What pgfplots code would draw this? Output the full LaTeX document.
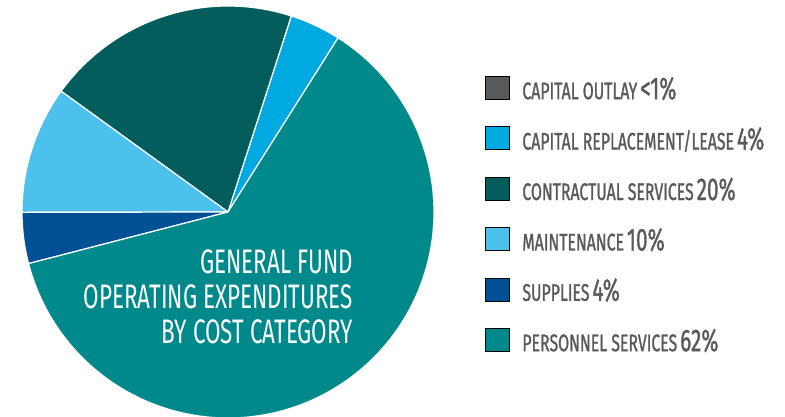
\documentclass[border=0pt]{standalone}
\usepackage{fontspec}
\setmainfont{Fira Sans}[FakeStretch=0.66, FakeBold=1]
\newfontfamily\centerfont{Fira Sans}[FakeStretch=0.66]
\usepackage{pgfplots}
\pgfplotsset{compat=1.18}
\definecolor{outlay}{HTML}{58595B}
\definecolor{caprep}{HTML}{00A9E0}
\definecolor{contract}{HTML}{025D5C}
\definecolor{maint}{HTML}{4BC1EC}
\definecolor{supplies}{HTML}{005096}
\definecolor{personnel}{HTML}{00898A}
\definecolor{textgray}{HTML}{58595B}
\newcommand{\lab}[2]{{\fontsize{24pt}{24pt}\selectfont #1}\hspace{3pt}{\fontsize{31.5pt}{31.5pt}\selectfont #2}}
% slice shares (percent), counter-clockwise from 57.7 degrees
\pgfmathsetmacro\sA{57.7}
\pgfmathsetmacro\sB{\sA+3.6*4}   % capital replacement/lease 4
\pgfmathsetmacro\sC{\sB+3.6*20}  % contractual services 20
\pgfmathsetmacro\sD{\sC+3.6*10}  % maintenance 10
\pgfmathsetmacro\sE{\sD+3.6*4}   % supplies 4
\pgfmathsetmacro\sF{\sE+3.6*62}  % personnel services 62
\begin{document}
\begin{tikzpicture}
\begin{axis}[
  width=785pt, height=416pt, scale only axis,
  xmin=-228, xmax=557, ymin=-204, ymax=212,
  axis lines=box, axis line style={draw=none}, ticks=none,
  legend cell align=left,
  legend image code/.code={\fill[#1] (0pt,-11.5pt) rectangle (24pt,11.5pt);},
  legend style={at={(axis cs:257,136)}, anchor=north west, draw=none, fill=none,
    inner sep=0pt, outer sep=0pt, row sep=27pt,
    nodes={inner sep=0pt, text height=23pt, text depth=0pt, text=textgray},
    /tikz/every odd column/.append style={column sep=13pt}},
]
\addlegendimage{fill=outlay}\addlegendentry{\lab{CAPITAL OUTLAY}{<1\%}}
\addlegendimage{fill=caprep}\addlegendentry{\lab{CAPITAL REPLACEMENT/LEASE}{4\%}}
\addlegendimage{fill=contract}\addlegendentry{\lab{CONTRACTUAL SERVICES}{20\%}}
\addlegendimage{fill=maint}\addlegendentry{\lab{MAINTENANCE}{10\%}}
\addlegendimage{fill=supplies}\addlegendentry{\lab{SUPPLIES}{4\%}}
\addlegendimage{fill=personnel}\addlegendentry{\lab{PERSONNEL SERVICES}{62\%}}

\addplot[forget plot, fill=caprep, draw=white, line width=1.2pt, domain=\sA:\sB, samples=30, data cs=polar] (x,206) -- (axis cs:0,0) -- cycle;
\addplot[forget plot, fill=contract, draw=white, line width=1.2pt, domain=\sB:\sC, samples=80, data cs=polar] (x,206) -- (axis cs:0,0) -- cycle;
\addplot[forget plot, fill=maint, draw=white, line width=1.2pt, domain=\sC:\sD, samples=40, data cs=polar] (x,206) -- (axis cs:0,0) -- cycle;
\addplot[forget plot, fill=supplies, draw=white, line width=1.2pt, domain=\sD:\sE, samples=30, data cs=polar] (x,206) -- (axis cs:0,0) -- cycle;
\addplot[forget plot, fill=personnel, draw=white, line width=1.2pt, domain=\sE:\sF, samples=200, data cs=polar] (x,206) -- (axis cs:0,0) -- cycle;

\node[anchor=base east, text=white, font=\centerfont\fontsize{34pt}{34pt}\selectfont, inner sep=0pt] at (axis cs:125,-61) {GENERAL FUND};
\node[anchor=base east, text=white, font=\centerfont\fontsize{34pt}{34pt}\selectfont, inner sep=0pt] at (axis cs:125,-96) {OPERATING EXPENDITURES};
\node[anchor=base east, text=white, font=\centerfont\fontsize{34pt}{34pt}\selectfont, inner sep=0pt] at (axis cs:125,-131) {BY COST CATEGORY};
\end{axis}
\end{tikzpicture}
\end{document}
